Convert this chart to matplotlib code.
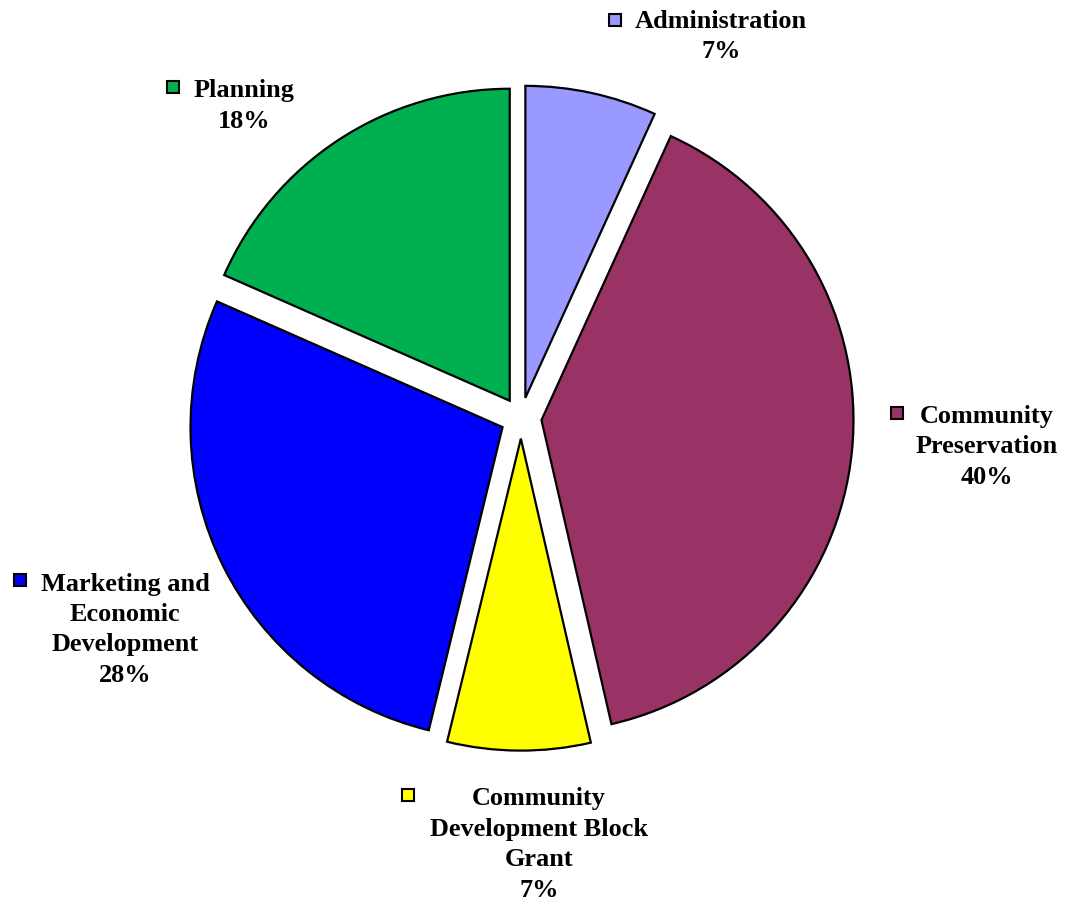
import matplotlib
matplotlib.use("Agg")
import matplotlib.pyplot as plt
from matplotlib.patches import Rectangle

# Budget shares by division (percent of total)
categories = ["Administration", "Community\nPreservation",
              "Community\nDevelopment Block\nGrant",
              "Marketing and\nEconomic\nDevelopment", "Planning"]
values = [6.8, 39.6, 7.4, 27.8, 18.4]
colors = ["#9999FF", "#993366", "#FFFF00", "#0000FF", "#00B050"]

W, H = 1066, 901
fig = plt.figure(figsize=(W / 100, H / 100), dpi=100)
ax = fig.add_axes([0, 0, 1, 1])

cx, cy, r = 521, H - 418, 312
# explode offsets are in data units, so scale them by the radius
ax.pie(values, colors=colors, startangle=90, counterclock=False,
       explode=[0.066 * r] * len(values), center=(cx, cy), radius=r,
       wedgeprops=dict(edgecolor="black", linewidth=1.6), frame=True)
ax.set_xlim(0, W)
ax.set_ylim(0, H)
ax.set_aspect("equal")
ax.axis("off")

# label anchor: (text centre x, first line centre y, marker x, marker y) in pixels from top
label_pos = [(721, 21, 615, 20),
             (987, 416, 897, 413),
             (539, 799, 408, 795),
             (125, 584, 20, 580),
             (244, 91, 173, 87)]

total = sum(values)
line_h = 30.5
font = dict(family="Liberation Serif", weight="bold", fontsize=18.9)
for cat, val, col, (tx, ty, mx, my) in zip(categories, values, colors, label_pos):
    lines = cat.split("\n") + [f"{val / total * 100:.0f}%"]
    for i, ln in enumerate(lines):
        ax.text(tx, H - (ty + i * line_h), ln, ha="center", va="center", **font)
    s = 12
    ax.add_patch(Rectangle((mx - s / 2, H - my - s / 2), s, s, facecolor=col,
                           edgecolor="black", linewidth=1.5))

fig.savefig("out.png", dpi=100, facecolor="white")
